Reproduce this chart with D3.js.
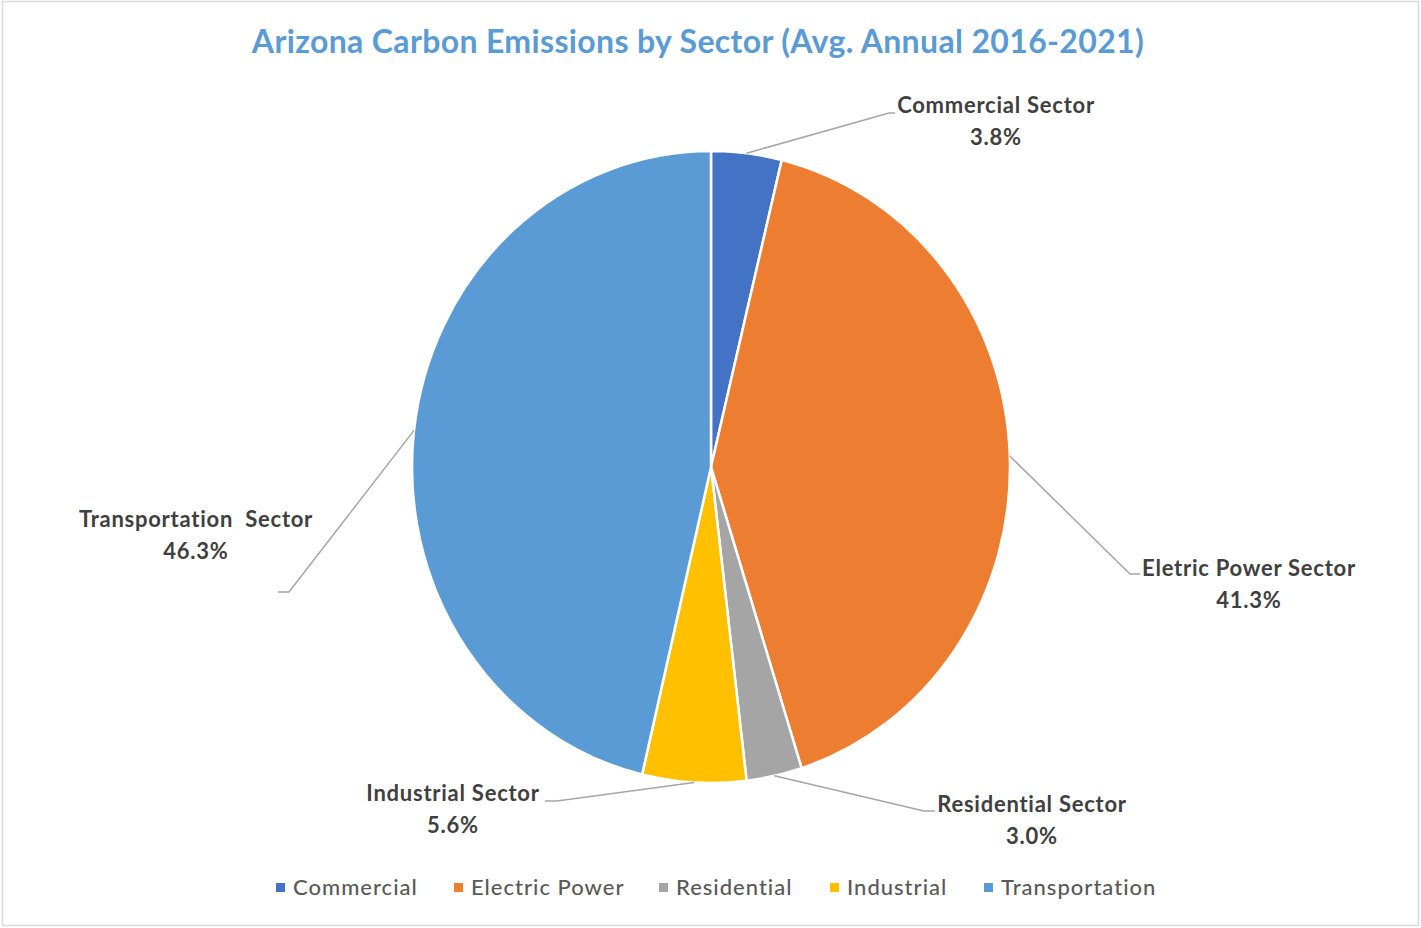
<!DOCTYPE html>
<html><head><meta charset="utf-8">
<script src="https://cdn.jsdelivr.net/npm/d3@7/dist/d3.min.js"></script>
<style>html,body{margin:0;padding:0;background:#fff;}svg{display:block;} text{white-space:pre;}</style>
</head><body>
<svg id="c" width="1421" height="928"></svg>
<script>
const categories = ["Commercial", "Electric Power", "Residential", "Industrial", "Transportation"];
const labelNames = ["Commercial Sector", "Eletric Power Sector", "Residential Sector", "Industrial Sector", "Transportation  Sector"];
const values = [3.8, 41.3, 3.0, 5.6, 46.3];
const colors = ["#4472C4", "#ED7D31", "#A5A5A5", "#FFC000", "#5B9BD5"];
const title = "Arizona Carbon Emissions by Sector (Avg. Annual 2016-2021)";

// label layout (positions of the label blocks and leader elbows)
const labelLayout = [
  {cx: 996, y: 106, elbow: [889, 113], end: [895, 113]},
  {cx: 1249, y: 569, elbow: [1130, 574], end: [1140, 574]},
  {cx: 1032, y: 805, elbow: [924, 811], end: [935, 811]},
  {cx: 453, y: 794, elbow: [557, 801], end: [545, 801]},
  {cx: 196, y: 520, elbow: [289, 592], end: [278, 592]}
];

const svg = d3.select("#c");
const W = 1421, H = 928;
svg.append("rect").attr("x", 2.5).attr("y", 1.5).attr("width", W - 5).attr("height", H - 4)
  .attr("fill", "#fff").attr("stroke", "#D9D9D9").attr("stroke-width", 1.5);

const font = "Lato, 'Open Sans', sans-serif";
svg.append("text").attr("x", 698).attr("y", 53).attr("text-anchor", "middle")
  .attr("font-family", font).attr("font-weight", 700).attr("font-size", 32).attr("letter-spacing", 0.35)
  .attr("fill", "#5B9BD5").text(title);

const cx = 711, cy = 467, rx = 299, ry = 316;
const pie = d3.pie().sort(null).value(d => d)(values);
const arc = d3.arc().innerRadius(0).outerRadius(rx);
const g = svg.append("g").attr("transform", `translate(${cx},${cy}) scale(1,${ry / rx})`);
g.selectAll("path").data(pie).join("path")
  .attr("d", arc).attr("fill", (d, i) => colors[i])
  .attr("stroke", "#fff").attr("stroke-width", 2.5).attr("vector-effect", "non-scaling-stroke");

// leader lines and labels
pie.forEach((d, i) => {
  const a = (d.startAngle + d.endAngle) / 2;
  const sx = cx + rx * Math.sin(a), sy = cy - ry * Math.cos(a);
  const L = labelLayout[i];
  svg.append("polyline")
    .attr("points", [[sx, sy], L.elbow, L.end].map(p => p.join(",")).join(" "))
    .attr("fill", "none").attr("stroke", "#A6A6A6").attr("stroke-width", 1.5);
  const t = svg.append("text").attr("text-anchor", "middle")
    .attr("font-family", font).attr("font-weight", 700).attr("font-size", 22).attr("letter-spacing", 0.75)
    .attr("fill", "#404040");
  t.append("tspan").attr("x", L.cx).attr("y", L.y + 7).text(labelNames[i]);
  t.append("tspan").attr("x", L.cx).attr("y", L.y + 39).text(values[i].toFixed(1) + "%");
});

// legend
const legendX = [276, 454, 659, 830, 984];
const lg = svg.append("g");
categories.forEach((c, i) => {
  lg.append("rect").attr("x", legendX[i]).attr("y", 883).attr("width", 9).attr("height", 9).attr("fill", colors[i]);
  lg.append("text").attr("x", legendX[i] + 17).attr("y", 895)
    .attr("font-family", font).attr("font-weight", 500).attr("font-size", 22).attr("letter-spacing", 1)
    .attr("fill", "#595959").text(c);
});
</script>
</body></html>
